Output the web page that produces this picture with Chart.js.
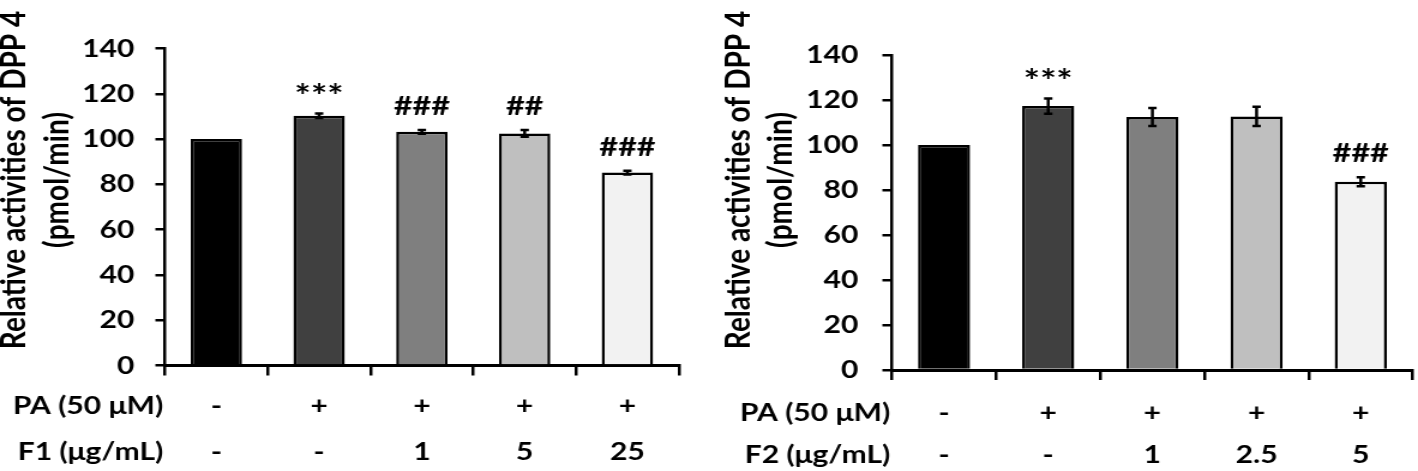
<!DOCTYPE html>
<html>
<head>
<meta charset="utf-8">
<script src="https://cdn.jsdelivr.net/npm/chart.js@4.4.1/dist/chart.umd.min.js"></script>
<style>
body { margin: 0; background: #fff; }
.panel { position: absolute; top: 0; width: 709px; height: 471px; }
</style>
</head>
<body>
<div class="panel" style="left:0"><canvas id="chartF1" width="591" height="471" style="width:709px;height:471px"></canvas></div>
<div class="panel" style="left:709px"><canvas id="chartF2" width="591" height="471" style="width:709px;height:471px"></canvas></div>
<script>
// treatment rows under the x axis
const paRow = ['-', '+', '+', '+', '+'];
const f1Doses = ['-', '-', '1', '5', '25'];
const f2Doses = ['-', '-', '1', '2.5', '5'];

// DPP 4 activity (pmol/min), mean and error
const f1Values = [100, 110.3, 103.2, 102.5, 85.2];
const f1Errors = [0, 1.0, 0.8, 1.5, 0.8];
const f1Marks = ['', '***', '###', '##', '###'];

const f2Values = [100, 117.3, 112.5, 112.7, 83.7];
const f2Errors = [0, 3.4, 4.0, 4.3, 2.0];
const f2Marks = ['', '***', '', '', '###'];

const yMin = 0, yMax = 140, yStep = 20;
const barColors = ['#000000', '#404040', '#7f7f7f', '#bfbfbf', '#f2f2f2'];
const yTitle = ['Relative activities of DPP 4', '(pmol/min)'];

const FONT = 'Lato';
const LABEL_SIZE = 25;

// error bars, significance marks, row headers and the y title
const panelText = {
    id: 'panelText',
    afterDatasetsDraw(chart, args, opts) {
        const ctx = chart.ctx;
        const xs = chart.scales.x;
        const ys = chart.scales.y;
        const meta = chart.getDatasetMeta(0);
        const values = chart.data.datasets[0].data;
        ctx.save();
        ctx.strokeStyle = '#000';
        ctx.fillStyle = '#000';
        ctx.lineWidth = 2.5;
        values.forEach(function (v, i) {
            const e = opts.errors[i];
            const x = meta.data[i].x;
            const top = ys.getPixelForValue(v + e);
            if (e > 0) {
                const bot = ys.getPixelForValue(v - e);
                ctx.beginPath();
                ctx.moveTo(x, top); ctx.lineTo(x, bot);
                ctx.moveTo(x - 3.5, top); ctx.lineTo(x + 3.5, top);
                ctx.moveTo(x - 3.5, bot); ctx.lineTo(x + 3.5, bot);
                ctx.stroke();
            }
            const mark = opts.marks[i];
            if (mark) {
                ctx.textAlign = 'center';
                ctx.textBaseline = 'alphabetic';
                if (mark[0] === '*') {
                    ctx.font = 'bold 32px ' + FONT;
                    ctx.fillText(mark, x, top - 5);
                } else {
                    ctx.font = 'bold 27px ' + FONT;
                    ctx.fillText(mark, x, top - 15);
                }
            }
        });

        // row headers left of the x axis
        ctx.font = 'bold ' + LABEL_SIZE + 'px ' + FONT;
        ctx.textAlign = 'right';
        ctx.textBaseline = 'middle';
        opts.rowHeaders.forEach(function (txt, k) {
            const y = xs.top + 10 + opts.tickPad + opts.lineH * (k + 0.5);
            ctx.fillText(txt, chart.chartArea.left - 1.5, y);
        });

        // rotated y title
        ctx.font = 'bold 28px ' + FONT;
        ctx.textAlign = 'center';
        yTitle.forEach(function (txt, k) {
            ctx.save();
            ctx.translate(opts.titleX[k], opts.titleY);
            ctx.rotate(-Math.PI / 2);
            ctx.fillText(txt, 0, 0);
            ctx.restore();
        });
        ctx.restore();
    }
};

function makeChart(id, doses, values, errors, marks, lay) {
    const labels = paRow.map(function (p, i) { return [p, doses[i]]; });
    return new Chart(document.getElementById(id), {
        type: 'bar',
        data: {
            labels: labels,
            datasets: [{
                data: values,
                backgroundColor: barColors,
                borderColor: '#000',
                borderWidth: 2.5,
                barPercentage: 0.5,
                categoryPercentage: 1
            }]
        },
        options: {
            responsive: false,
            devicePixelRatio: 1,
            animation: false,
            layout: { padding: { top: lay.top, right: lay.right, bottom: 0, left: 0 } },
            plugins: {
                legend: { display: false },
                tooltip: { enabled: false },
                panelText: {
                    errors: errors,
                    marks: marks,
                    rowHeaders: lay.rowHeaders,
                    tickPad: lay.tickPad,
                    lineH: lay.lineH,
                    titleX: lay.titleX,
                    titleY: 180
                }
            },
            scales: {
                x: {
                    offset: true,
                    grid: {
                        display: true, offset: true, drawOnChartArea: false,
                        drawTicks: true, tickLength: 10, tickWidth: 2.5,
                        tickColor: '#000', color: '#000', lineWidth: 2.5
                    },
                    border: { display: true, color: '#000', width: 3 },
                    ticks: {
                        color: '#000', padding: lay.tickPad, maxRotation: 0, autoSkip: false,
                        font: { family: FONT, weight: 'bold', size: LABEL_SIZE, lineHeight: lay.lineH / LABEL_SIZE }
                    },
                    afterFit: function (s) {
                        s.height = lay.xHeight;
                        s.paddingLeft = 0;
                        s.paddingRight = 0;
                    }
                },
                y: {
                    min: yMin, max: yMax,
                    ticks: {
                        stepSize: yStep, color: '#000', padding: lay.yPad,
                        font: { family: FONT, weight: 'bold', size: LABEL_SIZE }
                    },
                    grid: {
                        display: true, drawOnChartArea: false, drawTicks: true,
                        tickLength: 8, tickWidth: 2.5, tickColor: '#000', color: '#000', lineWidth: 2.5
                    },
                    border: { display: true, color: '#000', width: 2.5 },
                    afterFit: function (s) {
                        s.width = lay.yWidth;
                        s.paddingTop = 0;
                        s.paddingBottom = 0;
                    }
                }
            }
        },
        plugins: [panelText]
    });
}

makeChart('chartF1', f1Doses, f1Values, f1Errors, f1Marks, {
    top: 48.5, right: 25.2, xHeight: 105.5, yWidth: 137.5, yPad: 17.5,
    tickPad: 7, lineH: 46, titleX: [11.7, 47.5],
    rowHeaders: ['PA (50 \u03bcM)', 'F1 (\u03bcg/mL)']
});

makeChart('chartF2', f2Doses, f2Values, f2Errors, f2Marks, {
    top: 55, right: 4.3, xHeight: 101, yWidth: 152.5, yPad: 20,
    tickPad: 12, lineH: 42, titleX: [24.6, 60],
    rowHeaders: ['PA (50 \u03bcM)', 'F2 (\u03bcg/mL)']
});
</script>
</body>
</html>
